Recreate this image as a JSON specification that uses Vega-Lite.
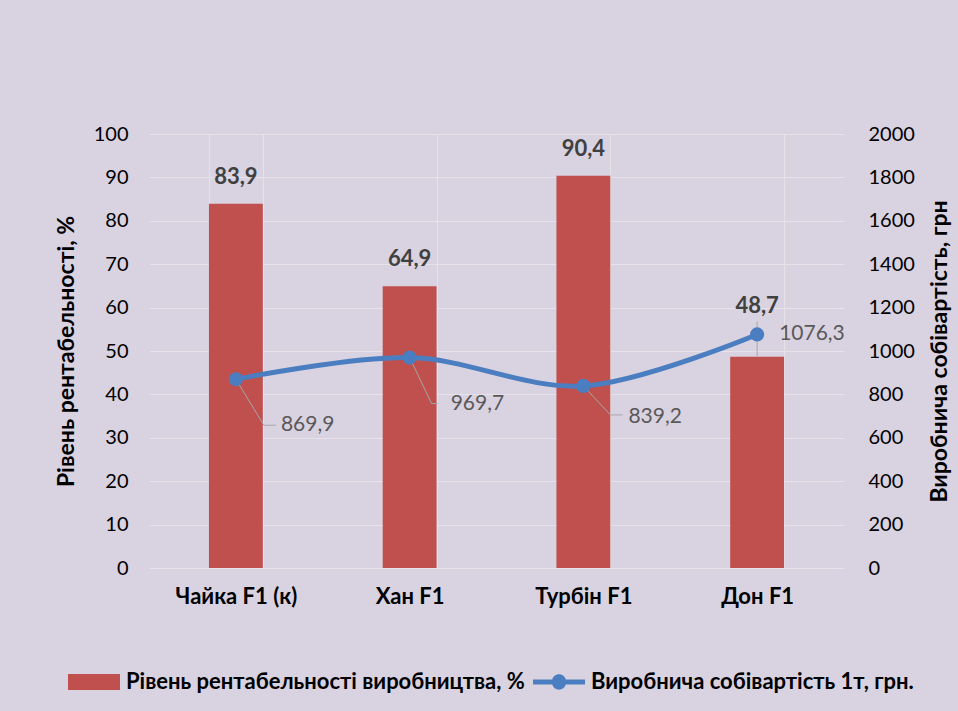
{
  "$schema": "https://vega.github.io/schema/vega-lite/v6.json",
  "width": 695,
  "height": 434,
  "autosize": {"type": "none"},
  "padding": {"left": 149, "top": 134, "right": 114, "bottom": 143},
  "background": "#D9D2E1",
  "config": {
    "view": {"stroke": null},
    "font": "Lato",
    "axis": {"labelFont": "Lato", "titleFont": "Lato"}
  },
  "data": {
    "values": [
      {"cat": "Чайка F1 (к)", "rent": 83.9, "rentText": "83,9", "cost": 869.9, "costText": "869,9"},
      {"cat": "Хан F1", "rent": 64.9, "rentText": "64,9", "cost": 969.7, "costText": "969,7"},
      {"cat": "Турбін F1", "rent": 90.4, "rentText": "90,4", "cost": 839.2, "costText": "839,2"},
      {"cat": "Дон F1", "rent": 48.7, "rentText": "48,7", "cost": 1076.3, "costText": "1076,3"}
    ]
  },
  "encoding": {
    "x": {
      "field": "cat",
      "type": "nominal",
      "sort": null,
      "scale": {"paddingInner": 0.69, "paddingOuter": 0.345},
      "axis": {
        "title": null,
        "labelAngle": 0,
        "labelFont": "Lato",
        "labelFontSize": 22,
        "labelFontWeight": "bold",
        "labelColor": "#000000",
        "labelPadding": 18,
        "ticks": false,
        "domain": true,
        "domainColor": "#E6E2EA",
        "grid": true,
        "gridColor": "#E6E2EA",
        "tickBand": "extent"
      }
    }
  },
  "layer": [
    {
      "layer": [
        {
          "mark": {"type": "bar", "color": "#C0504D"},
          "encoding": {
            "y": {
              "field": "rent",
              "type": "quantitative",
              "scale": {"domain": [0, 100]},
              "axis": {
                "orient": "left",
                "title": "Рівень рентабельності, %",
                "titleFontSize": 23,
                "titleFontWeight": "bold",
                "titleColor": "#000000",
                "titlePadding": 15,
                "tickCount": 10,
                "labelFontSize": 20,
                "labelColor": "#000000",
                "labelPadding": 21,
                "ticks": false,
                "domain": false,
                "grid": true,
                "gridColor": "#E6E2EA"
              }
            },
            "color": {
              "datum": "Рівень рентабельності виробництва, %",
              "type": "nominal",
              "scale": {
                "domain": ["Рівень рентабельності виробництва, %", "Виробнича собівартість 1т, грн."],
                "range": ["#C0504D", "#4A7EC0"]
              },
              "legend": {
                "orient": "none",
                "legendX": -81,
                "legendY": 522,
                "direction": "horizontal",
                "title": null,
                "symbolSize": 2704,
                "labelFont": "Lato",
                "labelFontSize": 22,
                "labelFontWeight": "bold",
                "labelColor": "#000000",
                "labelLimit": 0,
                "labelOffset": 6,
                "columnPadding": 8,
                "encode": {
                  "symbols": {
                    "update": {
                      "shape": {"signal": "datum.value === 'Рівень рентабельності виробництва, %' ? 'M-1,-0.31H1V0.31H-1Z' : 'M-1,-0.1H-0.26A0.27,0.27 0 0,1 0.26,-0.1H1V0.1H0.26A0.27,0.27 0 0,1 -0.26,0.1H-1Z'"},
                      "fill": {"scale": "color", "field": "value"},
                      "stroke": {"value": "transparent"},
                      "strokeWidth": {"value": 0},
                      "opacity": {"value": 1},
                      "fillOpacity": {"value": 1}
                    }
                  }
                }
              }
            }
          }
        },
        {
          "transform": [{"filter": "datum.cat !== 'Дон F1'"}],
          "mark": {"type": "text", "dy": -20, "baseline": "alphabetic", "fontSize": 22, "fontWeight": "bold", "color": "#404040", "font": "Lato"},
          "encoding": {
            "y": {"field": "rent", "type": "quantitative"},
            "text": {"field": "rentText"}
          }
        },
        {
          "transform": [{"filter": "datum.cat === 'Дон F1'"}],
          "mark": {"type": "text", "dy": -44, "baseline": "alphabetic", "fontSize": 22, "fontWeight": "bold", "color": "#404040", "font": "Lato"},
          "encoding": {
            "y": {"field": "rent", "type": "quantitative"},
            "text": {"field": "rentText"}
          }
        }
      ]
    },
    {
      "layer": [
        {
          "transform": [{"filter": "datum.cat === 'Чайка F1 (к)'"}],
          "mark": {"type": "rule", "color": "#A6A6A6", "strokeWidth": 1, "x2Offset": 28, "y2Offset": 46},
          "encoding": {
            "y": {"field": "cost", "type": "quantitative", "scale": {"domain": [0, 2000]},
              "axis": {
                "orient": "right",
                "title": "Виробнича собівартість, грн",
                "titleFontSize": 23,
                "titleFontWeight": "bold",
                "titleColor": "#000000",
                "titleAngle": 270,
                "titleBaseline": "top",
                "titlePadding": 14,
                "tickCount": 10,
                "format": "d",
                "labelFontSize": 20,
                "labelColor": "#000000",
                "labelPadding": 24,
                "ticks": false,
                "domain": false,
                "grid": false
              }},
            "x2": {"field": "cat"},
            "y2": {"field": "cost"}
          }
        },
        {
          "transform": [{"filter": "datum.cat === 'Чайка F1 (к)'"}],
          "mark": {"type": "rule", "color": "#A6A6A6", "strokeWidth": 1, "xOffset": 28, "yOffset": 46, "x2Offset": 40, "y2Offset": 46},
          "encoding": {
            "y": {"field": "cost", "type": "quantitative"},
            "x2": {"field": "cat"},
            "y2": {"field": "cost"}
          }
        },
        {
          "transform": [{"filter": "datum.cat === 'Хан F1'"}],
          "mark": {"type": "rule", "color": "#A6A6A6", "strokeWidth": 1, "x2Offset": 22, "y2Offset": 46},
          "encoding": {
            "y": {"field": "cost", "type": "quantitative"},
            "x2": {"field": "cat"},
            "y2": {"field": "cost"}
          }
        },
        {
          "transform": [{"filter": "datum.cat === 'Хан F1'"}],
          "mark": {"type": "rule", "color": "#A6A6A6", "strokeWidth": 1, "xOffset": 22, "yOffset": 46, "x2Offset": 28, "y2Offset": 46},
          "encoding": {
            "y": {"field": "cost", "type": "quantitative"},
            "x2": {"field": "cat"},
            "y2": {"field": "cost"}
          }
        },
        {
          "transform": [{"filter": "datum.cat === 'Турбін F1'"}],
          "mark": {"type": "rule", "color": "#A6A6A6", "strokeWidth": 1, "x2Offset": 27, "y2Offset": 29},
          "encoding": {
            "y": {"field": "cost", "type": "quantitative"},
            "x2": {"field": "cat"},
            "y2": {"field": "cost"}
          }
        },
        {
          "transform": [{"filter": "datum.cat === 'Турбін F1'"}],
          "mark": {"type": "rule", "color": "#A6A6A6", "strokeWidth": 1, "xOffset": 27, "yOffset": 29, "x2Offset": 39, "y2Offset": 29},
          "encoding": {
            "y": {"field": "cost", "type": "quantitative"},
            "x2": {"field": "cat"},
            "y2": {"field": "cost"}
          }
        },
        {
          "transform": [{"filter": "datum.cat === 'Дон F1'"}],
          "mark": {"type": "rule", "color": "#A6A6A6", "strokeWidth": 1, "yOffset": -13, "y2Offset": 22},
          "encoding": {
            "y": {"field": "cost", "type": "quantitative"},
            "y2": {"field": "cost"}
          }
        },
        {
          "mark": {"type": "line", "color": "#4A7EC0", "strokeWidth": 5, "interpolate": "catmull-rom"},
          "encoding": {
            "y": {"field": "cost", "type": "quantitative"}
          }
        },
        {
          "mark": {"type": "point", "filled": true, "color": "#4A7EC0", "size": 200, "opacity": 1},
          "encoding": {
            "y": {"field": "cost", "type": "quantitative"}
          }
        },
        {
          "transform": [{"filter": "datum.cat === 'Чайка F1 (к)'"}],
          "mark": {"type": "text", "align": "left", "baseline": "middle", "dx": 45, "dy": 46, "fontSize": 21, "color": "#595959", "font": "Lato"},
          "encoding": {
            "y": {"field": "cost", "type": "quantitative"},
            "text": {"field": "costText"}
          }
        },
        {
          "transform": [{"filter": "datum.cat === 'Хан F1'"}],
          "mark": {"type": "text", "align": "left", "baseline": "middle", "dx": 41, "dy": 46, "fontSize": 21, "color": "#595959", "font": "Lato"},
          "encoding": {
            "y": {"field": "cost", "type": "quantitative"},
            "text": {"field": "costText"}
          }
        },
        {
          "transform": [{"filter": "datum.cat === 'Турбін F1'"}],
          "mark": {"type": "text", "align": "left", "baseline": "middle", "dx": 45, "dy": 31, "fontSize": 21, "color": "#595959", "font": "Lato"},
          "encoding": {
            "y": {"field": "cost", "type": "quantitative"},
            "text": {"field": "costText"}
          }
        },
        {
          "transform": [{"filter": "datum.cat === 'Дон F1'"}],
          "mark": {"type": "text", "align": "left", "baseline": "middle", "dx": 22, "dy": 0, "fontSize": 21, "color": "#595959", "font": "Lato"},
          "encoding": {
            "y": {"field": "cost", "type": "quantitative"},
            "text": {"field": "costText"}
          }
        }
      ]
    }
  ],
  "resolve": {"scale": {"y": "independent"}}
}
